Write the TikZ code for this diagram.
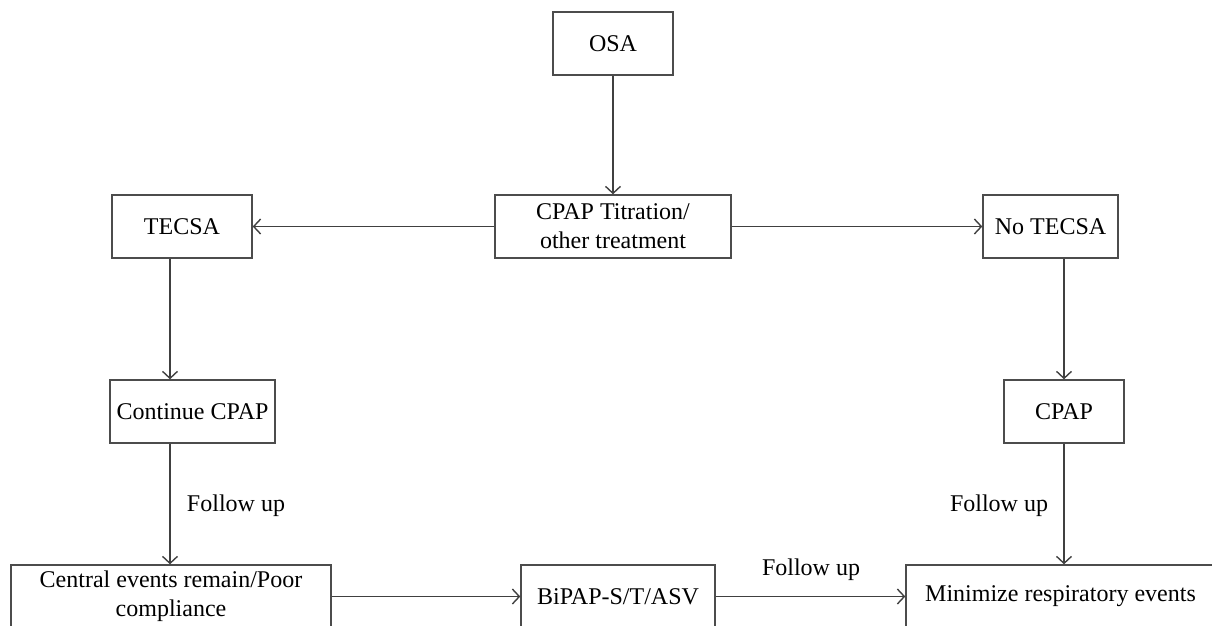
\documentclass[tikz,border=0pt]{standalone}
\usepackage{fontspec}
\setmainfont{Liberation Serif}
\usetikzlibrary{arrows.meta}
\begin{document}
\begin{tikzpicture}[x=1pt,y=-1pt,
  box/.style={draw=black!70,line width=1.4pt,minimum height=63pt,inner sep=2pt,align=center,font=\fontsize{24}{29}\selectfont,fill=white},
  conn/.style={draw=black!75,line width=1.6pt,-{Straight Barb[length=7pt,width=15pt,line width=1.4pt]}},
  lbl/.style={font=\fontsize{24}{29}\selectfont,inner sep=0pt}]
\useasboundingbox (0,0) rectangle (1212,625);
\clip (0,0) rectangle (1212,625);
\node[box,minimum width=120pt] (osa) at (613,43.5) {OSA};
\node[box,minimum width=236pt] (cpapt) at (613,226.5) {CPAP Titration/\\other treatment};
\node[box,minimum width=140pt] (tecsa) at (182,226.5) {TECSA};
\node[box,minimum width=135pt] (notecsa) at (1050.5,226.5) {No TECSA};
\node[box,minimum width=165pt] (cont) at (192.5,411.5) {Continue CPAP};
\node[box,minimum width=120pt] (cpap) at (1064,411.5) {CPAP};
\node[box,minimum width=320pt] (central) at (171,596.5) {Central events remain/Poor\\compliance};
\node[box,minimum width=194pt] (bipap) at (618,596.5) {BiPAP-S/T/ASV};
\node[box,minimum width=309pt] (mini) at (1060.5,596.5) {Minimize respiratory events};
\coordinate (xl) at (170,0);
\node[lbl] (fu1) at (236,506) {Follow up};
\node[lbl] (fu2) at (999,506) {Follow up};
\node[lbl] (fu3) at (811,570) {Follow up};
\draw[conn] (osa.south) -- (cpapt.north);
\draw[conn] (cpapt.west) -- (tecsa.east);
\draw[conn] (cpapt.east) -- (notecsa.west);
\draw[conn] (tecsa.south -| xl) -- (cont.north -| xl);
\draw[conn] (cont.south -| xl) -- (central.north -| xl);
\draw[conn] (notecsa.south -| cpap.north) -- (cpap.north);
\draw[conn] (cpap.south) -- (mini.north -| cpap.south);
\draw[conn] (central.east) -- (bipap.west);
\draw[conn] (bipap.east) -- (mini.west);
\end{tikzpicture}
\end{document}
